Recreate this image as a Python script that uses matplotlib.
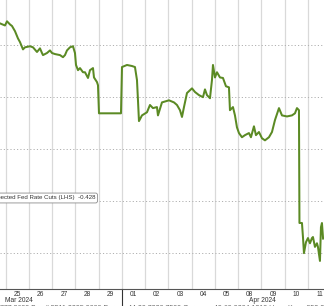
import numpy as np
import matplotlib
matplotlib.use("Agg")
import matplotlib.pyplot as plt

# trading-day position (0 = 25 Mar, each day 1 unit) and expected cuts
t = [-0.247, -0.032, 0.054, 0.183, 0.269, 0.398, 0.527, 0.613, 0.742, 0.828,
     1.043, 1.172, 1.344, 1.473, 1.559, 1.602, 1.774, 1.903, 1.989, 2.118,
     2.333, 2.462, 2.548, 2.634, 2.763, 2.892, 2.978, 3.022, 3.108, 3.194,
     3.323, 3.409, 3.538, 3.624, 3.753, 3.796, 3.925, 3.968, 4.011, 4.957,
     5.000, 5.215, 5.430, 5.559, 5.645, 5.688, 5.731, 5.860, 6.075, 6.204,
     6.333, 6.505, 6.548, 6.720, 7.022, 7.237, 7.366, 7.495, 7.581, 7.667,
     7.796, 8.011, 8.140, 8.312, 8.484, 8.570, 8.656, 8.785, 8.871, 8.914,
     9.000, 9.086, 9.215, 9.344, 9.473, 9.602, 9.645, 9.774, 9.860, 9.946,
     10.032, 10.161, 10.290, 10.462, 10.548, 10.677, 10.763, 10.892, 11.022, 11.151,
     11.323, 11.452, 11.581, 11.753, 11.882, 12.097, 12.312, 12.441, 12.527, 12.613,
     12.634, 12.742, 12.785, 12.828, 12.914, 13.000, 13.086, 13.172, 13.215, 13.301,
     13.387, 13.430, 13.516, 13.559, 13.602, 13.650]
cuts = [-0.842, -0.838, -0.846, -0.840, -0.837, -0.827, -0.813, -0.806, -0.792, -0.796,
        -0.798, -0.796, -0.787, -0.794, -0.785, -0.781, -0.785, -0.790, -0.785, -0.783,
        -0.781, -0.777, -0.781, -0.790, -0.796, -0.798, -0.785, -0.762, -0.752, -0.756,
        -0.748, -0.748, -0.737, -0.752, -0.756, -0.738, -0.729, -0.723, -0.669, -0.669,
        -0.758, -0.762, -0.760, -0.758, -0.733, -0.694, -0.654, -0.665, -0.671, -0.685,
        -0.679, -0.681, -0.665, -0.690, -0.694, -0.690, -0.685, -0.675, -0.662, -0.681,
        -0.708, -0.717, -0.710, -0.704, -0.700, -0.715, -0.704, -0.698, -0.733, -0.762,
        -0.738, -0.748, -0.738, -0.737, -0.721, -0.719, -0.675, -0.681, -0.665, -0.642,
        -0.631, -0.623, -0.627, -0.631, -0.623, -0.644, -0.627, -0.633, -0.621, -0.617,
        -0.623, -0.633, -0.656, -0.679, -0.665, -0.663, -0.665, -0.669, -0.679, -0.675,
        -0.458, -0.458, -0.431, -0.400, -0.421, -0.429, -0.419, -0.429, -0.431, -0.412,
        -0.419, -0.412, -0.385, -0.450, -0.458, -0.428]

day_labels = ["25", "26", "27", "28", "29", "01", "02", "03", "04", "05",
              "08", "09", "10", "11"]
y_grid = [-0.8, -0.7, -0.6, -0.5, -0.4]
last_value = -0.428

green = "#5b8a24"

fig = plt.figure(figsize=(3.24, 3.06), dpi=100)
ax = fig.add_axes([0, 17 / 306, 1, 289 / 306])

ax.plot(t, cuts, color=green, lw=1.45, solid_joinstyle="round", zorder=3)

ax.set_xlim(-0.247, 13.69)
ax.set_ylim(-0.331, -0.887)

# grids
for k in range(0, 14):
    ax.axvline(k, color="#d9d9d9", lw=0.9, zorder=1)
for v in y_grid:
    ax.axhline(v, color="#b0b0b0", lw=0.7, ls=(0, (1.2, 2.2)), zorder=1)

for s in ["top", "left", "right"]:
    ax.spines[s].set_visible(False)
ax.spines["bottom"].set_color("#555555")
ax.spines["bottom"].set_linewidth(0.8)
ax.set_yticks([])
ax.set_xticks(np.arange(len(day_labels)) + 0.5)
ax.set_xticklabels(day_labels, fontsize=4.8, color="#333333", family="Liberation Sans")
ax.tick_params(axis="x", length=0, pad=1.5)

# month boundary tick
ax.plot([5, 5], [0, -17 / 289], transform=ax.get_xaxis_transform(),
        color="#333333", lw=0.8, clip_on=False)

fig.text(5 / 324, 1 - 300.5 / 306, "Mar 2024", fontsize=4.8, color="#333333",
         family="Liberation Sans", va="center", ha="left")
fig.text(262 / 324, 1 - 300.5 / 306, "Apr 2024", fontsize=4.8, color="#333333",
         family="Liberation Sans", va="center", ha="center")
fig.text(-4 / 324, 1 - 309 / 306,
         "9777 8600 Brazil 5511 2395 9000 Europe 44 20 7330 7500 Germany 49 69 9204 1210 Hong Kong 852 2977 6000",
         fontsize=5, color="#666666", family="Liberation Sans", va="center", ha="left")

ax.text(95 / 324, 1 - 198 / 289, "Expected Fed Rate Cuts (LHS)  %.3f" % last_value,
        transform=ax.transAxes, fontsize=4.4, color="#333333", family="Liberation Sans",
        ha="right", va="center", zorder=5,
        bbox=dict(boxstyle="round,pad=0.4,rounding_size=0.3", fc="white", ec="#8c8c8c", lw=0.6))

fig.savefig("out.png", dpi=100)
